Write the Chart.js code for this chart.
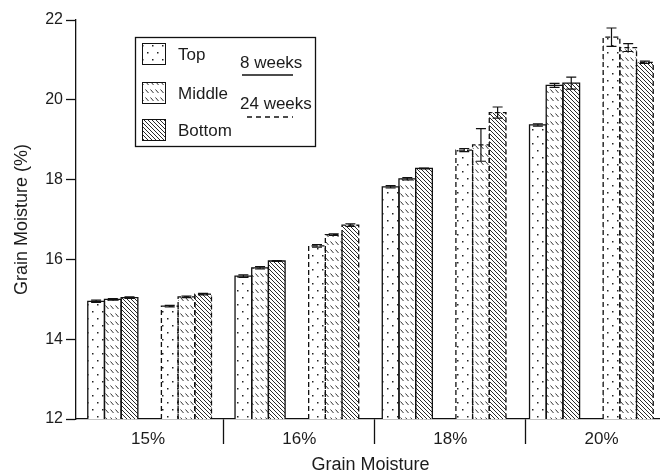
<!DOCTYPE html>
<html>
<head>
<meta charset="utf-8">
<script src="https://cdn.jsdelivr.net/npm/chart.js@4.4.1/dist/chart.umd.min.js"></script>
<style>
  html, body { margin: 0; padding: 0; background: #fff; }
  #wrap { width: 660px; height: 476px; overflow: hidden; position: relative; }
  #c { display: block; }
</style>
</head>
<body>
<div id="wrap"><canvas id="c" width="668" height="476" style="width:668px;height:476px"></canvas></div>
<script>
// ---- data ----
const groupLabels = ['15%', '16%', '18%', '20%'];
const storageTimes = ['8 weeks', '24 weeks'];
const clusterLabels = ['15% 8 weeks', '15% 24 weeks', '16% 8 weeks', '16% 24 weeks',
                       '18% 8 weeks', '18% 24 weeks', '20% 8 weeks', '20% 24 weeks'];
const topValues    = [14.95, 14.83, 15.58, 16.34, 17.82, 18.74, 19.37, 21.57];
const middleValues = [15.00, 15.06, 15.79, 16.62, 18.02, 18.87, 20.36, 21.31];
const bottomValues = [15.04, 15.13, 15.96, 16.86, 18.28, 19.68, 20.42, 20.94];
const topErrors    = [0.03, 0.02, 0.03, 0.03, 0.03, 0.04, 0.03, 0.23];
const middleErrors = [0.02, 0.02, 0.03, 0.02, 0.03, 0.41, 0.05, 0.10];
const bottomErrors = [0.02, 0.02, 0.01, 0.03, 0.01, 0.14, 0.15, 0.03];
const yTicks = [12, 14, 16, 18, 20, 22];
const groupTickPositions = [0, 0.5, 1, 1.5, 2, 2.5, 3];
const seriesNames = ['Top', 'Middle', 'Bottom'];

const FONT = "'Liberation Sans', Arial, Helvetica, sans-serif";
const INK = '#1c1c1c';

// ---- patterns ----
function makePattern(w, h, draw) {
  const c = document.createElement('canvas');
  c.width = w; c.height = h;
  const g = c.getContext('2d');
  g.fillStyle = '#fff';
  g.fillRect(0, 0, w, h);
  draw(g);
  return g.createPattern(c, 'repeat');
}
const dotPattern = makePattern(10, 14, g => {
  g.fillStyle = '#222';
  g.fillRect(2, 3, 1.5, 1.5);
  g.fillRect(7, 10, 1.5, 1.5);
});
const dashPattern = makePattern(5, 8, g => {
  g.strokeStyle = '#333';
  g.lineWidth = 1;
  g.beginPath();
  g.moveTo(0.5, 1.5); g.lineTo(3.5, 5);
  g.stroke();
});
const hatchPattern = makePattern(4, 4, g => {
  g.strokeStyle = '#2a2a2a';
  g.lineWidth = 1;
  g.beginPath();
  g.moveTo(-1, -1); g.lineTo(5, 5);
  g.moveTo(-1, 3); g.lineTo(1, 5);
  g.moveTo(3, -1); g.lineTo(5, 1);
  g.stroke();
});
const patterns = [dotPattern, dashPattern, hatchPattern];
const errorSets = [topErrors, middleErrors, bottomErrors];

// ---- plugin: bar outlines (solid 8 weeks, dashed 24 weeks) + error bars ----
const outlinePlugin = {
  id: 'outlines',
  afterDatasetsDraw(chart) {
    const ctx = chart.ctx;
    const yScale = chart.scales.y;
    const floor = chart.chartArea.bottom;
    ctx.save();
    ctx.strokeStyle = '#111';
    ctx.lineWidth = 1.3;
    chart.data.datasets.forEach((ds, i) => {
      const meta = chart.getDatasetMeta(i);
      meta.data.forEach((bar, j) => {
        const p = bar.getProps(['x', 'y', 'base', 'width'], true);
        const l = p.x - p.width / 2, r = p.x + p.width / 2;
        const b = Math.min(p.base, floor);
        ctx.setLineDash(j % 2 === 1 ? [5, 3] : []);
        ctx.beginPath();
        ctx.moveTo(l, b); ctx.lineTo(l, p.y); ctx.lineTo(r, p.y); ctx.lineTo(r, b);
        ctx.stroke();
      });
    });
    ctx.setLineDash([]);
    ctx.lineWidth = 1.2;
    chart.data.datasets.forEach((ds, i) => {
      const meta = chart.getDatasetMeta(i);
      const errs = errorSets[i];
      meta.data.forEach((bar, j) => {
        const v = ds.data[j], e = errs[j];
        const x = bar.x;
        const yHi = yScale.getPixelForValue(v + e);
        const yLo = yScale.getPixelForValue(v - e);
        ctx.beginPath();
        ctx.moveTo(x, yHi); ctx.lineTo(x, yLo);
        ctx.moveTo(x - 5, yHi); ctx.lineTo(x + 5, yHi);
        ctx.moveTo(x - 5, yLo); ctx.lineTo(x + 5, yLo);
        ctx.stroke();
      });
    });
    ctx.restore();
  }
};

// ---- plugin: legend box ----
const legendPlugin = {
  id: 'customLegend',
  afterDraw(chart) {
    const ctx = chart.ctx;
    ctx.save();
    ctx.strokeStyle = '#111';
    ctx.lineWidth = 1.3;
    ctx.strokeRect(135.5, 37.5, 180, 109);
    const rows = [43, 82, 119];
    ctx.font = '17px ' + FONT;
    ctx.textBaseline = 'middle';
    seriesNames.forEach((name, i) => {
      ctx.fillStyle = patterns[i];
      ctx.fillRect(142, rows[i], 23, 21);
      ctx.strokeStyle = '#111';
      ctx.lineWidth = 1;
      ctx.strokeRect(142.5, rows[i] + 0.5, 23, 21);
      ctx.fillStyle = INK;
      ctx.fillText(name, 178, rows[i] + 12);
    });
    ctx.fillStyle = INK;
    ctx.fillText(storageTimes[0], 240, 63);
    ctx.fillText(storageTimes[1], 240, 104);
    ctx.strokeStyle = '#111';
    ctx.lineWidth = 1.3;
    ctx.beginPath();
    ctx.moveTo(242, 75); ctx.lineTo(293, 75);
    ctx.stroke();
    ctx.setLineDash([5, 4]);
    ctx.beginPath();
    ctx.moveTo(247, 117); ctx.lineTo(293, 117);
    ctx.stroke();
    ctx.restore();
  }
};

new Chart(document.getElementById('c'), {
  type: 'bar',
  data: {
    labels: clusterLabels,
    datasets: [
      { label: seriesNames[0], data: topValues, backgroundColor: dotPattern, borderWidth: 0 },
      { label: seriesNames[1], data: middleValues, backgroundColor: dashPattern, borderWidth: 0 },
      { label: seriesNames[2], data: bottomValues, backgroundColor: hatchPattern, borderWidth: 0 }
    ]
  },
  options: {
    responsive: false,
    animation: false,
    devicePixelRatio: 1,
    layout: { padding: { top: 20, right: 3, left: 0, bottom: 0 } },
    categoryPercentage: 0.68,
    barPercentage: 1.0,
    plugins: { legend: { display: false }, tooltip: { enabled: false } },
    scales: {
      x: {
        display: false,
        type: 'category',
        offset: true
      },
      xg: {
        type: 'linear',
        position: 'bottom',
        min: -0.477,
        max: 3.42,
        offset: false,
        afterBuildTicks(s) { s.ticks = groupTickPositions.map(v => ({ value: v })); },
        border: { display: true, color: '#111', width: 1.3 },
        grid: {
          offset: false,
          drawOnChartArea: false,
          drawTicks: true,
          tickLength: 25,
          tickWidth: 1.3,
          tickColor: (c) => (c.tick && c.tick.value % 1 !== 0 ? '#111' : 'rgba(0,0,0,0)'),
          color: '#111'
        },
        ticks: {
          autoSkip: false,
          font: { family: FONT, size: 17 }, color: INK, padding: -15, maxRotation: 0,
          callback: (v) => (Number.isInteger(v) ? groupLabels[v] : '')
        },
        title: { display: true, text: 'Grain Moisture', font: { family: FONT, size: 18 }, color: INK, padding: 0 },
        afterFit(s) { s.height = 57; }
      },
      y: {
        min: 12, max: 22,
        afterBuildTicks(s) { s.ticks = yTicks.map(v => ({ value: v })); },
        border: { display: true, color: '#111', width: 1.3 },
        grid: { drawOnChartArea: false, drawTicks: true, tickLength: 10, tickWidth: 1.3, tickColor: '#111' },
        ticks: { font: { family: FONT, size: 16 }, color: INK, padding: 3 },
        title: { display: true, text: 'Grain Moisture (%)', font: { family: FONT, size: 18 }, color: INK, padding: { top: 11, bottom: 0 } },
        afterFit(s) { s.width = 76; }
      }
    }
  },
  plugins: [outlinePlugin, legendPlugin]
});
</script>
</body>
</html>
